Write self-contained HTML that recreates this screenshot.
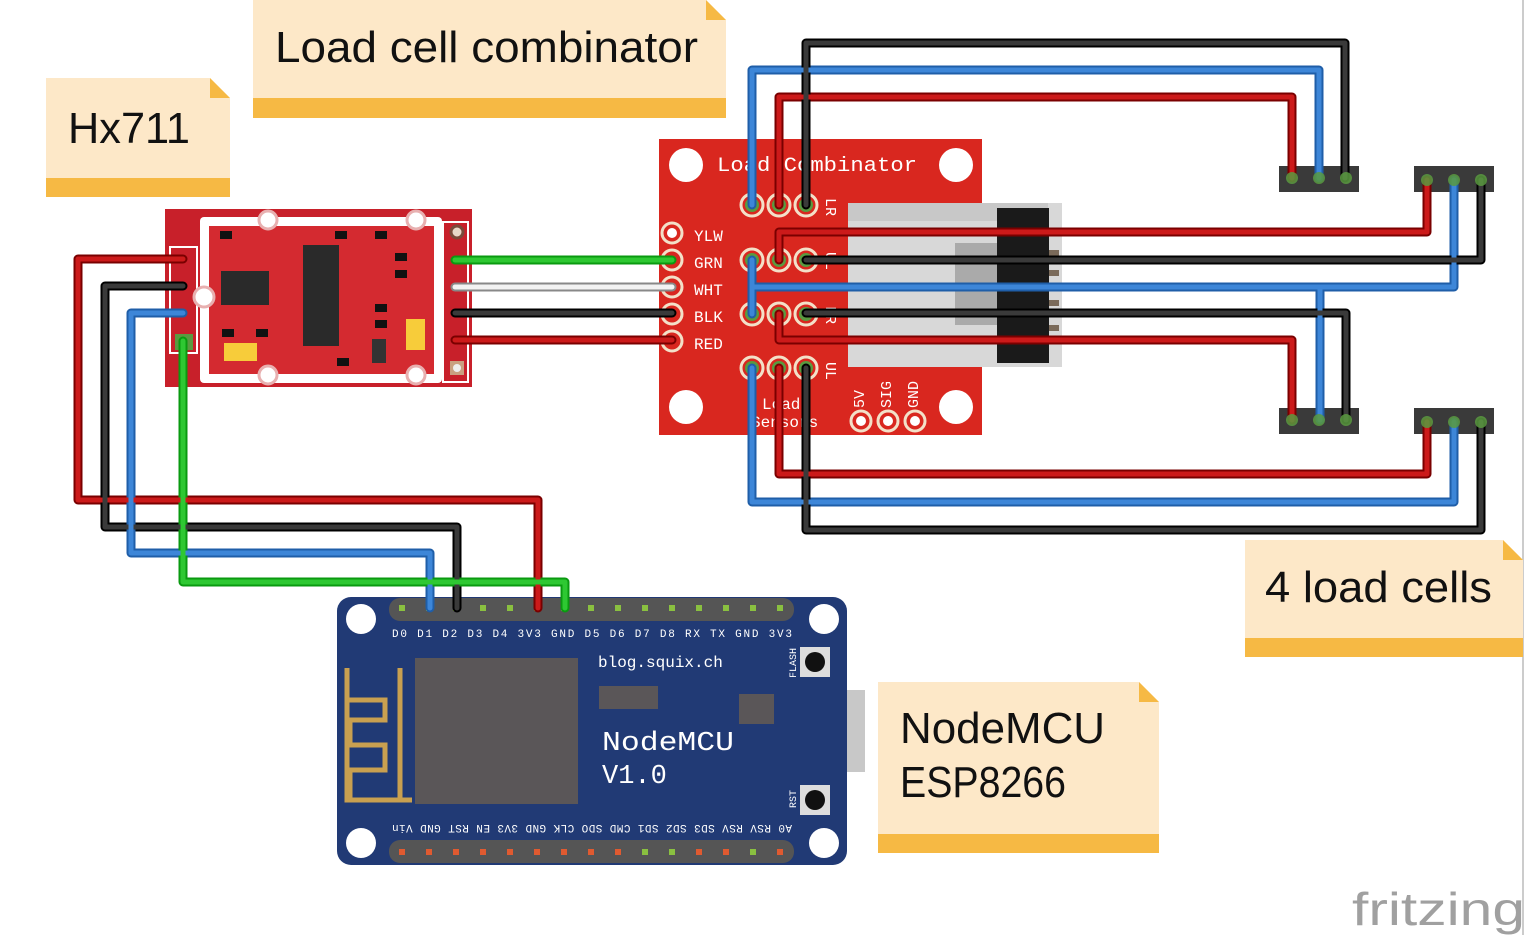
<!DOCTYPE html>
<html><head><meta charset="utf-8"><style>
html,body{margin:0;padding:0;background:#fff;}
svg{display:block;}
text{font-family:"Liberation Sans",sans-serif;}
.m{font-family:"Liberation Mono",monospace;}
</style></head><body>
<svg width="1525" height="935" viewBox="0 0 1525 935" xmlns="http://www.w3.org/2000/svg">
<rect width="1525" height="935" fill="#fff"/>
<line x1="1523" y1="0" x2="1523" y2="935" stroke="#ccc" stroke-width="2"/>

<g>
<polygon points="46,78 210,78 230,98 230,197 46,197" fill="#fde8c8"/>
<polygon points="210,78 230,98 210,98" fill="#f6b944"/>
<rect x="46" y="178" width="184" height="19" fill="#f6b944"/>
<text x="68" y="143" font-size="44" textLength="122" lengthAdjust="spacingAndGlyphs" fill="#111">Hx711</text>

<polygon points="253,0 706,0 726,20 726,118 253,118" fill="#fde8c8"/>
<polygon points="706,0 726,20 706,20" fill="#f6b944"/>
<rect x="253" y="98" width="473" height="20" fill="#f6b944"/>
<text x="275" y="62" font-size="44" textLength="423" lengthAdjust="spacingAndGlyphs" fill="#111">Load cell combinator</text>

<polygon points="1245,540 1503,540 1523,560 1523,657 1245,657" fill="#fde8c8"/>
<polygon points="1503,540 1523,560 1503,560" fill="#f6b944"/>
<rect x="1245" y="638" width="278" height="19" fill="#f6b944"/>
<text x="1265" y="602" font-size="44" textLength="227" lengthAdjust="spacingAndGlyphs" fill="#111">4 load cells</text>

<polygon points="878,682 1139,682 1159,702 1159,853 878,853" fill="#fde8c8"/>
<polygon points="1139,682 1159,702 1139,702" fill="#f6b944"/>
<rect x="878" y="834" width="281" height="19" fill="#f6b944"/>
<text x="900" y="743" font-size="44" textLength="205" lengthAdjust="spacingAndGlyphs" fill="#111">NodeMCU</text>
<text x="900" y="797" font-size="44" textLength="166" lengthAdjust="spacingAndGlyphs" fill="#111">ESP8266</text>
</g>

<!-- HX711 board -->
<g>
<rect x="165" y="209" width="307" height="178" fill="#c8202a"/>
<rect x="200" y="217" width="242" height="166" fill="#fff" rx="4"/>
<rect x="209" y="226" width="225" height="148" fill="#d42a30"/>
<rect x="170" y="247" width="27" height="106" fill="none" stroke="#fff" stroke-width="2"/>
<rect x="443" y="222" width="25" height="160" fill="none" stroke="#fff" stroke-width="2"/>
<circle cx="204" cy="297" r="10" fill="#fff" stroke="#e8b0b0" stroke-width="3"/>
<circle cx="268" cy="220" r="9" fill="#fff" stroke="#e8b0b0" stroke-width="3"/>
<circle cx="416" cy="220" r="9" fill="#fff" stroke="#e8b0b0" stroke-width="3"/>
<circle cx="268" cy="375" r="9" fill="#fff" stroke="#e8b0b0" stroke-width="3"/>
<circle cx="416" cy="375" r="9" fill="#fff" stroke="#e8b0b0" stroke-width="3"/>
<rect x="221" y="271" width="48" height="34" fill="#2a2a2a"/>
<rect x="303" y="245" width="36" height="101" fill="#2a2a2a"/>
<rect x="224" y="343" width="33" height="18" fill="#f7cc3a"/>
<rect x="406" y="319" width="19" height="31" fill="#f7cc3a"/>
<rect x="372" y="339" width="14" height="24" fill="#333"/>
<rect x="220" y="231" width="12" height="8" fill="#111"/><rect x="335" y="231" width="12" height="8" fill="#111"/><rect x="375" y="231" width="12" height="8" fill="#111"/>
<rect x="395" y="253" width="12" height="8" fill="#111"/><rect x="395" y="270" width="12" height="8" fill="#111"/>
<rect x="375" y="304" width="12" height="8" fill="#111"/><rect x="375" y="320" width="12" height="8" fill="#111"/>
<rect x="222" y="329" width="12" height="8" fill="#111"/><rect x="256" y="329" width="12" height="8" fill="#111"/>
<rect x="337" y="358" width="12" height="8" fill="#111"/>
<circle cx="457" cy="232" r="6" fill="#e8d8c8" stroke="#7a4a3a" stroke-width="3"/>
<rect x="450" y="361" width="14" height="14" fill="#c9a080"/><circle cx="457" cy="368" r="4" fill="#eee"/>
<rect x="175" y="334" width="18" height="16" fill="#5a9a40"/>
</g>

<!-- Load combinator board -->
<g>
<rect x="659" y="139" width="323" height="296" fill="#d9271f"/>
<circle cx="686" cy="165" r="17" fill="#fff"/><circle cx="956" cy="165" r="17" fill="#fff"/>
<circle cx="686" cy="407" r="17" fill="#fff"/><circle cx="956" cy="407" r="17" fill="#fff"/>
<text x="717" y="171" class="m" font-size="20" fill="#fff" textLength="200" lengthAdjust="spacingAndGlyphs">Load Combinator</text>
<g class="m" font-size="16" fill="#fff">
<text x="694" y="241" class="m">YLW</text><text x="694" y="268" class="m">GRN</text><text x="694" y="295" class="m">WHT</text><text x="694" y="322" class="m">BLK</text><text x="694" y="349" class="m">RED</text>
<text x="762" y="409" class="m">Load</text><text x="751" y="427" class="m">Sensors</text>
</g>
<g font-size="15" fill="#fff">
<text class="m" transform="translate(864,408) rotate(-90)">5V</text>
<text class="m" transform="translate(891,408) rotate(-90)">SIG</text>
<text class="m" transform="translate(918,408) rotate(-90)">GND</text>
<text class="m" transform="translate(826,198) rotate(90)">LR</text>
<text class="m" transform="translate(826,362) rotate(90)">UL</text>
<text class="m" transform="translate(826,252) rotate(90)">UL</text>
<text class="m" transform="translate(826,306) rotate(90)">LR</text>
</g>
<rect x="848" y="203" width="214" height="164" fill="#d8d8d8"/>
<rect x="848" y="203" width="200" height="18" fill="#c8c8c8"/>
<rect x="955" y="243" width="50" height="82" fill="#aaa"/>
<rect x="997" y="208" width="52" height="155" fill="#1a1a1a"/>
<g fill="#7a6a5a"><rect x="1049" y="250" width="10" height="6"/><rect x="1049" y="270" width="10" height="6"/><rect x="1049" y="300" width="10" height="6"/><rect x="1049" y="325" width="10" height="6"/></g>
<g fill="none" stroke="#f3e0c8" stroke-width="3">
<circle cx="672" cy="233" r="10"/><circle cx="672" cy="260" r="10"/><circle cx="672" cy="287" r="10"/><circle cx="672" cy="314" r="10"/><circle cx="672" cy="341" r="10"/>
<circle cx="752" cy="205" r="11"/><circle cx="779" cy="205" r="11"/><circle cx="806" cy="205" r="11"/>
<circle cx="752" cy="260" r="11"/><circle cx="779" cy="260" r="11"/><circle cx="806" cy="260" r="11"/>
<circle cx="752" cy="314" r="11"/><circle cx="779" cy="314" r="11"/><circle cx="806" cy="314" r="11"/>
<circle cx="752" cy="368" r="11"/><circle cx="779" cy="368" r="11"/><circle cx="806" cy="368" r="11"/>
<circle cx="861" cy="421" r="10"/><circle cx="888" cy="421" r="10"/><circle cx="915" cy="421" r="10"/>
</g>
<g fill="#5a9a40"><circle cx="752" cy="205" r="7"/><circle cx="779" cy="205" r="7"/><circle cx="806" cy="205" r="7"/>
<circle cx="752" cy="260" r="7"/><circle cx="779" cy="260" r="7"/><circle cx="806" cy="260" r="7"/>
<circle cx="752" cy="314" r="7"/><circle cx="779" cy="314" r="7"/><circle cx="806" cy="314" r="7"/>
<circle cx="752" cy="368" r="7"/><circle cx="779" cy="368" r="7"/><circle cx="806" cy="368" r="7"/></g>
<g fill="#fff"><circle cx="672" cy="233" r="5"/><circle cx="861" cy="421" r="5"/><circle cx="888" cy="421" r="5"/><circle cx="915" cy="421" r="5"/></g>
</g>

<g fill="#3a3a3a">
<rect x="1279" y="166" width="80" height="26"/><rect x="1414" y="166" width="80" height="26"/>
<rect x="1279" y="408" width="80" height="26"/><rect x="1414" y="408" width="80" height="26"/>
</g>

<!-- NodeMCU -->
<g>
<rect x="802" y="690" width="63" height="82" fill="#c8c8c8"/>
<rect x="337" y="597" width="510" height="268" rx="14" fill="#213a75"/>
<circle cx="361" cy="619" r="15" fill="#fff"/><circle cx="824" cy="619" r="15" fill="#fff"/>
<circle cx="361" cy="843" r="15" fill="#fff"/><circle cx="824" cy="843" r="15" fill="#fff"/>
<rect x="389" y="598" width="405" height="23" rx="11" fill="#555"/>
<rect x="389" y="840" width="405" height="23" rx="11" fill="#555"/>
<g fill="#8ac040">
<rect x="399" y="605" width="6" height="6"/><rect x="426" y="605" width="6" height="6"/><rect x="453" y="605" width="6" height="6"/><rect x="480" y="605" width="6" height="6"/><rect x="507" y="605" width="6" height="6"/><rect x="534" y="605" width="6" height="6"/><rect x="561" y="605" width="6" height="6"/><rect x="588" y="605" width="6" height="6"/><rect x="615" y="605" width="6" height="6"/><rect x="642" y="605" width="6" height="6"/><rect x="669" y="605" width="6" height="6"/><rect x="696" y="605" width="6" height="6"/><rect x="723" y="605" width="6" height="6"/><rect x="750" y="605" width="6" height="6"/><rect x="777" y="605" width="6" height="6"/>
</g>
<g fill="#e05a30">
<rect x="399" y="849" width="6" height="6"/><rect x="426" y="849" width="6" height="6"/><rect x="453" y="849" width="6" height="6"/><rect x="480" y="849" width="6" height="6"/><rect x="507" y="849" width="6" height="6"/><rect x="534" y="849" width="6" height="6"/><rect x="561" y="849" width="6" height="6"/><rect x="588" y="849" width="6" height="6"/><rect x="615" y="849" width="6" height="6"/><rect x="696" y="849" width="6" height="6"/><rect x="723" y="849" width="6" height="6"/><rect x="777" y="849" width="6" height="6"/>
</g>
<g fill="#8ac040"><rect x="642" y="849" width="6" height="6"/><rect x="669" y="849" width="6" height="6"/><rect x="750" y="849" width="6" height="6"/></g>
<text x="392" y="637" class="m" font-size="11" fill="#fff" textLength="400" lengthAdjust="spacing">D0 D1 D2 D3 D4 3V3 GND D5 D6 D7 D8 RX TX GND 3V3</text>
<text transform="translate(792,825) rotate(180)" class="m" font-size="11" fill="#fff" textLength="400" lengthAdjust="spacing">A0 RSV RSV SD3 SD2 SD1 CMD SDO CLK GND 3V3 EN RST GND Vin</text>
<rect x="415" y="658" width="163" height="146" fill="#5a5658"/>
<path d="M400,668 V800 M347,668 V800 H412 M347,700 H385 V720 H350 V745 H385 V770 H350 V800" fill="none" stroke="#c9a050" stroke-width="5"/>
<rect x="599" y="686" width="59" height="23" fill="#5a5658"/>
<rect x="739" y="694" width="35" height="30" fill="#5a5658"/>
<text x="598" y="667" class="m" font-size="16" fill="#fff">blog.squix.ch</text>
<text x="602" y="750" class="m" font-size="27" fill="#fff" textLength="132" lengthAdjust="spacingAndGlyphs">NodeMCU</text>
<text x="602" y="783" class="m" font-size="27" fill="#fff">V1.0</text>
<rect x="800" y="647" width="30" height="30" fill="#ddd"/><circle cx="815" cy="662" r="10" fill="#111"/>
<rect x="800" y="785" width="30" height="30" fill="#ddd"/><circle cx="815" cy="800" r="10" fill="#111"/>
<text transform="translate(796,678) rotate(-90)" class="m" font-size="10" fill="#fff">FLASH</text>
<text transform="translate(796,808) rotate(-90)" class="m" font-size="10" fill="#fff">RST</text>
</g>

<!-- wires -->
<g fill="none" stroke-linejoin="round" stroke-linecap="round">
<g stroke-width="9">
<path stroke="#7a0000" d="M779,205 V97 H1292 V178 M779,232 H1427 V180 M779,340 H1292 V420 M779,368 V474 H1427 V422 M779,232 V260 M779,314 V340"/>
<path stroke="#1f5ea8" d="M752,205 V70 H1319 V178 M752,260 V314 M752,287 H1454 V180 M1320,287 V420 M752,368 V502 H1454 V422"/>
<path stroke="#000" d="M806,205 V43 H1345 V178 M806,260 H1481 V180 M806,313 H1346 V420 M806,368 V530 H1481 V422"/>
<path stroke="#7a0000" d="M183,259 H78 V500 H538 V608 M455,340 H672"/>
<path stroke="#000" d="M183,286 H105 V527 H457 V608 M455,313 H672"/>
<path stroke="#1f5ea8" d="M183,313 H131 V553 H430 V608"/>
<path stroke="#0a9a10" d="M183,341 V582 H565 V608 M455,260 H672"/>
<path stroke="#888" d="M455,287 H672"/>
</g>
<g stroke-width="5">
<path stroke="#cc1a1a" d="M779,205 V97 H1292 V178 M779,232 H1427 V180 M779,340 H1292 V420 M779,368 V474 H1427 V422 M779,232 V260 M779,314 V340"/>
<path stroke="#3d86d8" d="M752,205 V70 H1319 V178 M752,260 V314 M752,287 H1454 V180 M1320,287 V420 M752,368 V502 H1454 V422"/>
<path stroke="#3a3a3a" d="M806,205 V43 H1345 V178 M806,260 H1481 V180 M806,313 H1346 V420 M806,368 V530 H1481 V422"/>
<path stroke="#cc1a1a" d="M183,259 H78 V500 H538 V608 M455,340 H672"/>
<path stroke="#3a3a3a" d="M183,286 H105 V527 H457 V608 M455,313 H672"/>
<path stroke="#3d86d8" d="M183,313 H131 V553 H430 V608"/>
<path stroke="#2ec832" d="M183,341 V582 H565 V608 M455,260 H672"/>
<path stroke="#f2f2f2" d="M455,287 H672"/>
</g>
</g>
<g fill="#5a9a40" opacity=".85">
<circle cx="1292" cy="178" r="6"/><circle cx="1319" cy="178" r="6"/><circle cx="1346" cy="178" r="6"/>
<circle cx="1427" cy="180" r="6"/><circle cx="1454" cy="180" r="6"/><circle cx="1481" cy="180" r="6"/>
<circle cx="1292" cy="420" r="6"/><circle cx="1319" cy="420" r="6"/><circle cx="1346" cy="420" r="6"/>
<circle cx="1427" cy="422" r="6"/><circle cx="1454" cy="422" r="6"/><circle cx="1481" cy="422" r="6"/>
</g>

<text x="1352" y="925" font-size="46" fill="#a0a0a0" textLength="173" lengthAdjust="spacingAndGlyphs">fritzing</text>
</svg>
</body></html>
